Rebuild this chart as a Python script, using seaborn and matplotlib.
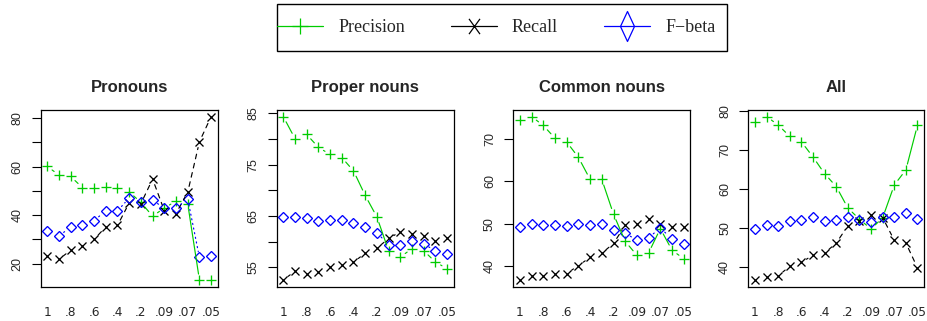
import numpy as np
import pandas as pd
import matplotlib
matplotlib.use("Agg")
import matplotlib.pyplot as plt
import seaborn as sns
from matplotlib.path import Path
from matplotlib.lines import Line2D
from matplotlib.patches import Rectangle
from matplotlib.ticker import MultipleLocator, FuncFormatter

# ---------------- data ----------------
thresholds = ["1", ".9", ".8", ".7", ".6", ".5", ".4", ".3", ".2", ".1",
              ".09", ".08", ".07", ".06", ".05"]
panel_titles = ["Pronouns", "Proper nouns", "Common nouns", "All"]
series_names = ["Precision", "Recall", "F\u2212beta"]

pron_precision = [60.1, 56.6, 56.0, 51.4, 51.4, 51.6, 51.1, 49.6, 45.3, 39.6, 43.0, 45.8, 44.7, 13.3, 13.3]
pron_recall = [23.2, 21.8, 25.6, 27.5, 30.0, 35.2, 35.8, 45.1, 44.8, 54.9, 41.9, 40.7, 49.5, 70.3, 80.7]
pron_fbeta = [33.3, 31.4, 35.2, 35.8, 37.8, 41.8, 41.8, 47.1, 45.3, 46.2, 42.9, 42.9, 46.7, 22.6, 23.2]

proper_precision = [84.4, 80.1, 80.9, 78.4, 77.0, 76.4, 73.8, 69.0, 64.8, 58.2, 57.0, 58.6, 58.2, 56.0, 54.7]
proper_recall = [52.5, 54.2, 53.6, 54.1, 55.1, 55.4, 56.0, 57.7, 58.7, 60.6, 61.9, 61.5, 61.1, 60.1, 60.6]
proper_fbeta = [64.8, 64.8, 64.5, 64.0, 64.2, 64.3, 63.6, 62.8, 61.7, 59.4, 59.4, 60.1, 59.6, 58.1, 57.5]

common_precision = [74.5, 75.3, 73.2, 70.2, 69.3, 65.7, 60.5, 60.5, 52.3, 45.9, 42.6, 43.2, 48.9, 43.8, 41.8]
common_recall = [36.8, 37.7, 37.7, 38.3, 38.3, 40.2, 42.1, 43.1, 45.4, 49.7, 50.1, 51.1, 50.0, 49.3, 49.2]
common_fbeta = [49.2, 50.1, 49.8, 49.7, 49.5, 50.0, 49.7, 50.1, 48.6, 47.8, 46.2, 46.8, 49.0, 46.5, 45.3]

all_precision = [77.4, 78.7, 76.5, 73.6, 72.2, 68.3, 64.0, 60.7, 55.2, 52.3, 49.8, 52.7, 61.1, 65.0, 76.5]
all_recall = [36.7, 37.4, 37.8, 40.2, 41.2, 43.1, 43.6, 46.2, 50.6, 51.8, 53.5, 52.7, 46.9, 46.2, 39.8]
all_fbeta = [49.8, 50.8, 50.6, 51.8, 52.2, 53.0, 51.8, 52.2, 52.8, 52.0, 51.5, 53.0, 53.0, 54.0, 52.3]

panel_data = [
    (pron_precision, pron_recall, pron_fbeta),
    (proper_precision, proper_recall, proper_fbeta),
    (common_precision, common_recall, common_fbeta),
    (all_precision, all_recall, all_fbeta),
]
# y tick step and which ticks get a label
ytick_step = [10, 5, 10, 10]
ytick_labels = [[20, 40, 60, 80], [55, 65, 75, 85], [40, 50, 60, 70], [40, 50, 60, 70, 80]]

# ---------------- style ----------------
GREEN = "#00CC00"
BLACK = "#000000"
BLUE = "#0000FF"
colors = [GREEN, BLACK, BLUE]
markers = ["+", "x", "D"]
msizes = [7.0, 5.5, 4.6]
lstyles = ["-", (0, (4, 4)), (0, (1, 3))]

sns.set_theme(style="white")
plt.rcParams["font.family"] = ["Liberation Sans", "DejaVu Sans"]

W, H = 928, 321
fig = plt.figure(figsize=(W / 100, H / 100), dpi=100)

lefts = [40.7, 276.7, 513.3, 748.5]
ax_ws = [177.0, 177.0, 177.0, 175.5]
ax_top, ax_bot = 110.0, 286.5

x = np.arange(1, len(thresholds) + 1)
SHRINK = 4.3  # points, gap between line and marker (R type="b")

for p, (title, series) in enumerate(zip(panel_titles, panel_data)):
    ax = fig.add_axes([lefts[p] / W, (H - ax_bot) / H, ax_ws[p] / W, (ax_bot - ax_top) / H])
    for s, vals in enumerate(series):
        df = pd.DataFrame({"x": x, "y": vals})
        kw = dict(marker=markers[s], markersize=msizes[s], markeredgewidth=0.95,
                  markeredgecolor=colors[s], color=colors[s], linestyle="none")
        if markers[s] == "D":
            kw["markerfacecolor"] = "none"
        sns.lineplot(data=df, x="x", y="y", ax=ax, legend=False, **kw)
    ax.margins(x=0.04, y=0.04)
    ax.autoscale_view()
    ax.set_xlim(ax.get_xlim())
    ax.set_ylim(ax.get_ylim())

    # connecting segments with gaps around markers
    px_per_pt = fig.dpi / 72.0
    for s, vals in enumerate(series):
        pts = ax.transData.transform(np.column_stack([x, vals]))
        for i in range(len(x) - 1):
            d = np.hypot(*(pts[i + 1] - pts[i]))
            if d > 2 * SHRINK * px_per_pt + 1.5:
                ax.annotate("", xy=(x[i + 1], vals[i + 1]), xytext=(x[i], vals[i]),
                            xycoords="data", textcoords="data",
                            arrowprops=dict(arrowstyle="-", shrinkA=SHRINK, shrinkB=SHRINK,
                                            color=colors[s], lw=0.85, linestyle=lstyles[s]))

    ax.set_xlabel("")
    ax.set_ylabel("")
    ax.set_xticks(x[::2])
    ax.set_xticklabels(thresholds[::2])
    ax.tick_params(axis="x", length=0, pad=14, labelsize=8.7)
    for lab in ax.get_xticklabels():
        lab.set_family(["DejaVu Sans"])
    labelled = set(ytick_labels[p])
    ax.yaxis.set_major_locator(MultipleLocator(ytick_step[p]))
    ax.yaxis.set_major_formatter(FuncFormatter(
        lambda v, pos, L=labelled: (f"{v:.0f}" if round(v) in L and abs(v - round(v)) < 1e-6 else "")))
    ax.tick_params(axis="y", left=True, length=6.5, width=0.8, color="black",
                   pad=6.0, labelsize=9, labelrotation=90)
    for lab in ax.get_yticklabels():
        lab.set_va("center")
    for sp in ax.spines.values():
        sp.set_visible(True)
        sp.set_color("black")
        sp.set_linewidth(0.9)
    ax.set_title(title, fontsize=12, fontweight="bold", pad=13)
    ax.grid(False)

# ---------------- legend ----------------
xpath = Path([(-0.36, -0.5), (0.36, 0.5), (-0.36, 0.5), (0.36, -0.5)],
             [Path.MOVETO, Path.LINETO, Path.MOVETO, Path.LINETO])
dpath = Path([(0, 0.5), (0.233, 0), (0, -0.5), (-0.233, 0), (0, 0.5)],
             [Path.MOVETO, Path.LINETO, Path.LINETO, Path.LINETO, Path.CLOSEPOLY])
handles = [
    Line2D([], [], color=GREEN, lw=0.9, marker="+", markersize=11, markeredgewidth=0.9),
    Line2D([], [], color=BLACK, lw=0.9, marker=xpath, markersize=11, markeredgewidth=0.9,
           fillstyle="none"),
    Line2D([], [], color=BLUE, lw=0.9, marker=dpath, markersize=21.6, markeredgewidth=0.9,
           markerfacecolor="none"),
]
fig.legend(handles, series_names, loc="center left",
           bbox_to_anchor=(277 / W, 1 - 27.5 / H), ncol=3, frameon=False,
           borderpad=0, borderaxespad=0, handlelength=2.55, handletextpad=0.83,
           columnspacing=2.55, prop={"family": ["Liberation Serif"], "size": 13})
fig.patches.append(Rectangle((277 / W, 1 - 51 / H), 450 / W, 47 / H,
                             transform=fig.transFigure, fill=False,
                             edgecolor="black", linewidth=1.0))

fig.savefig("out.png", dpi=100)
